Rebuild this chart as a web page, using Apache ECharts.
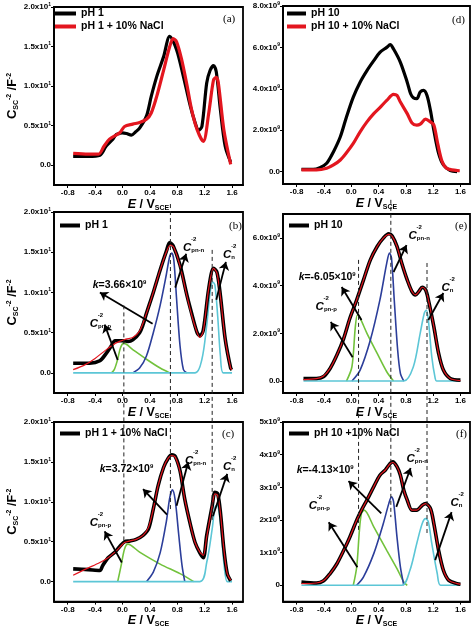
<!DOCTYPE html>
<html><head><meta charset="utf-8">
<style>html,body{margin:0;padding:0;background:#fff}#c{width:474px;height:629px}</style>
<script src="https://cdn.jsdelivr.net/npm/echarts@6/dist/echarts.min.js"></script>
</head><body><div id="c"></div><script>
// ---------- data ----------
const xTickValues = [-0.8, -0.4, 0, 0.4, 0.8, 1.2, 1.6];
const yTicksLeft = [0, 0.5, 1.0, 1.5, 2.0];
const yTicksD = [0, 2, 4, 6, 8];
const yTicksE = [0, 2, 4, 6];
const yTicksF = [0, 1, 2, 3, 4, 5];

// (a)
const aBlack = [[-0.72,0.11],[-0.5,0.11],[-0.33,0.125],[-0.24,0.24],[-0.14,0.33],[-0.09,0.39],[-0.05,0.40],[0.0,0.41],[0.06,0.40],[0.13,0.38],[0.19,0.42],[0.25,0.47],[0.35,0.62],[0.42,0.87],[0.5,1.12],[0.6,1.37],[0.69,1.63],[0.79,1.46],[0.89,1.12],[0.99,0.75],[1.06,0.54],[1.11,0.44],[1.16,0.49],[1.23,1.04],[1.28,1.2],[1.33,1.26],[1.37,1.18],[1.43,0.7],[1.5,0.24],[1.58,0.04]];
const aRed = [[-0.72,0.15],[-0.5,0.14],[-0.35,0.14],[-0.27,0.24],[-0.19,0.33],[-0.04,0.41],[0.03,0.49],[0.15,0.52],[0.25,0.54],[0.35,0.58],[0.42,0.66],[0.5,0.87],[0.6,1.2],[0.69,1.5],[0.74,1.6],[0.79,1.56],[0.86,1.35],[0.94,1.02],[1.01,0.7],[1.09,0.45],[1.18,0.3],[1.26,0.66],[1.33,1.08],[1.37,1.11],[1.4,1.04],[1.48,0.45],[1.58,0.01]];
// (d)
const dBlack = [[-0.73,0.11],[-0.56,0.11],[-0.46,0.19],[-0.36,0.4],[-0.26,0.96],[-0.16,1.68],[-0.07,2.64],[0.03,3.6],[0.13,4.32],[0.23,4.88],[0.33,5.36],[0.42,5.76],[0.52,6.0],[0.57,6.13],[0.62,5.92],[0.72,5.28],[0.82,4.32],[0.87,3.76],[0.91,3.57],[0.96,3.52],[1.01,3.84],[1.06,3.92],[1.11,3.68],[1.16,2.96],[1.21,2.0],[1.28,0.88],[1.35,0.32],[1.45,0.05],[1.55,0.0]];
const dRed = [[-0.73,0.08],[-0.51,0.08],[-0.36,0.16],[-0.26,0.32],[-0.16,0.56],[-0.07,0.91],[0.03,1.36],[0.13,1.92],[0.23,2.4],[0.33,2.8],[0.42,3.09],[0.52,3.44],[0.62,3.73],[0.67,3.68],[0.72,3.36],[0.82,2.8],[0.89,2.35],[0.96,2.24],[1.01,2.29],[1.09,2.53],[1.16,2.4],[1.21,2.25],[1.27,1.3],[1.33,0.5],[1.4,0.16],[1.55,0.05],[1.59,0.04]];
// (b)
const bBlack = [[-0.72,0.12],[-0.48,0.12],[-0.33,0.15],[-0.24,0.24],[-0.16,0.34],[-0.11,0.4],[-0.07,0.4],[0.01,0.4],[0.08,0.39],[0.15,0.41],[0.25,0.5],[0.3,0.6],[0.35,0.74],[0.45,1.0],[0.55,1.28],[0.64,1.51],[0.69,1.62],[0.74,1.58],[0.84,1.34],[0.94,0.97],[1.01,0.74],[1.09,0.5],[1.13,0.46],[1.18,0.53],[1.26,1.05],[1.33,1.3],[1.38,1.25],[1.43,0.96],[1.5,0.42],[1.58,0.06],[1.6,0.04]];
const bFit = [[-0.72,0.04],[-0.55,0.1],[-0.4,0.18],[-0.25,0.28],[-0.1,0.37],[0.05,0.42],[0.15,0.44],[0.25,0.52],[0.35,0.74],[0.45,1.0],[0.55,1.28],[0.64,1.5],[0.7,1.59],[0.75,1.56],[0.84,1.33],[0.94,0.96],[1.01,0.72],[1.09,0.5],[1.13,0.44],[1.18,0.52],[1.26,1.05],[1.33,1.3],[1.38,1.24],[1.43,0.95],[1.5,0.42],[1.58,0.06],[1.6,0.04]];
const bGreen = [[-0.16,0],[-0.12,0.04],[-0.07,0.17],[-0.03,0.31],[0.02,0.37],[0.15,0.29],[0.35,0.17],[0.55,0.06],[0.69,0]];
const bBlue = [[0.15,0],[0.25,0.06],[0.35,0.21],[0.45,0.5],[0.55,0.84],[0.64,1.22],[0.69,1.45],[0.72,1.49],[0.75,1.4],[0.79,0.92],[0.84,0.34],[0.89,0.04],[0.94,0]];
const bCyan = [[-0.72,0],[1.06,0],[1.16,0.17],[1.23,0.59],[1.28,1.0],[1.32,1.13],[1.35,1.09],[1.39,0.71],[1.43,0.21],[1.47,0],[1.6,0]];
// (c)
const cBlack = [[-0.72,0.16],[-0.5,0.15],[-0.33,0.14],[-0.29,0.2],[-0.21,0.3],[-0.11,0.37],[-0.04,0.44],[0.03,0.5],[0.11,0.51],[0.2,0.53],[0.3,0.58],[0.38,0.66],[0.45,0.91],[0.52,1.2],[0.6,1.43],[0.67,1.55],[0.72,1.59],[0.77,1.57],[0.84,1.39],[0.91,1.03],[0.99,0.72],[1.06,0.49],[1.13,0.36],[1.18,0.3],[1.23,0.58],[1.31,0.95],[1.35,1.12],[1.39,1.1],[1.43,0.87],[1.48,0.41],[1.53,0.1],[1.58,0.01]];
const cFit = [[-0.72,0.08],[-0.53,0.16],[-0.33,0.24],[-0.21,0.3],[-0.11,0.37],[-0.04,0.43],[0.03,0.49],[0.11,0.51],[0.2,0.53],[0.3,0.58],[0.38,0.68],[0.45,0.91],[0.52,1.2],[0.6,1.43],[0.67,1.55],[0.72,1.58],[0.77,1.56],[0.84,1.38],[0.91,1.03],[0.99,0.72],[1.06,0.49],[1.13,0.37],[1.18,0.33],[1.23,0.56],[1.31,0.95],[1.35,1.1],[1.39,1.08],[1.43,0.86],[1.48,0.41],[1.53,0.1],[1.58,0.02]];
const cGreen = [[-0.07,0],[-0.02,0.2],[0.03,0.41],[0.08,0.47],[0.25,0.37],[0.55,0.22],[0.84,0.1],[1.04,0]];
const cBlue = [[0.35,0],[0.45,0.12],[0.55,0.36],[0.64,0.75],[0.69,1.05],[0.73,1.15],[0.77,1.02],[0.82,0.6],[0.87,0.2],[0.91,0]];
const cCyan = [[-0.72,0],[1.13,0],[1.23,0.24],[1.31,0.66],[1.35,0.93],[1.38,0.96],[1.43,0.74],[1.48,0.24],[1.53,0],[1.6,0]];
// (e)
const eBlack = [[-0.7,0.11],[-0.51,0.11],[-0.41,0.18],[-0.31,0.53],[-0.21,1.09],[-0.11,1.79],[-0.02,2.63],[0.08,3.4],[0.18,4.24],[0.28,5.08],[0.38,5.64],[0.47,5.99],[0.55,6.17],[0.6,6.08],[0.67,5.64],[0.74,4.94],[0.82,4.24],[0.89,3.75],[0.94,3.61],[0.99,3.75],[1.04,3.93],[1.09,3.82],[1.13,3.4],[1.21,2.28],[1.28,1.16],[1.35,0.46],[1.45,0.11],[1.6,0.04]];
const eFit = [[-0.7,0.06],[-0.51,0.1],[-0.41,0.2],[-0.31,0.53],[-0.21,1.09],[-0.11,1.79],[-0.02,2.63],[0.08,3.4],[0.18,4.24],[0.28,5.08],[0.38,5.64],[0.47,5.99],[0.55,6.15],[0.6,6.06],[0.67,5.64],[0.74,4.94],[0.82,4.24],[0.89,3.75],[0.94,3.61],[0.99,3.75],[1.04,3.93],[1.09,3.82],[1.13,3.4],[1.21,2.28],[1.28,1.16],[1.35,0.46],[1.45,0.11],[1.6,0.02]];
const eGreen = [[-0.07,0],[0.01,0.6],[0.06,2.28],[0.09,2.77],[0.12,2.7],[0.23,2.0],[0.38,1.16],[0.52,0.39],[0.62,0]];
const eBlue = [[0.01,0],[0.13,0.46],[0.28,1.72],[0.42,3.4],[0.52,4.94],[0.56,5.36],[0.59,5.15],[0.63,3.4],[0.68,1.3],[0.72,0.32],[0.77,0]];
const eCyan = [[-0.7,0],[0.77,0],[0.91,0.6],[1.01,2.0],[1.07,2.84],[1.1,2.98],[1.13,2.56],[1.18,1.02],[1.23,0.11],[1.25,0],[1.6,0]];
// (f)
const fBlack = [[-0.73,0.1],[-0.51,0.07],[-0.41,0.13],[-0.31,0.36],[-0.21,0.66],[-0.11,1.07],[-0.02,1.48],[0.08,1.99],[0.15,2.3],[0.23,2.61],[0.33,3.02],[0.42,3.37],[0.5,3.53],[0.57,3.73],[0.61,3.78],[0.67,3.63],[0.72,3.37],[0.77,2.91],[0.82,2.61],[0.89,2.3],[0.96,2.3],[1.04,2.45],[1.09,2.5],[1.16,2.35],[1.21,1.89],[1.28,1.07],[1.35,0.46],[1.43,0.15],[1.55,0.05],[1.6,0.03]];
const fFit = [[-0.73,0.05],[-0.51,0.07],[-0.41,0.14],[-0.31,0.36],[-0.21,0.66],[-0.11,1.07],[-0.02,1.48],[0.08,1.99],[0.15,2.3],[0.23,2.61],[0.33,3.02],[0.42,3.37],[0.5,3.53],[0.57,3.72],[0.61,3.76],[0.67,3.63],[0.72,3.37],[0.77,2.91],[0.82,2.61],[0.89,2.3],[0.96,2.3],[1.04,2.45],[1.09,2.5],[1.16,2.35],[1.21,1.89],[1.28,1.07],[1.35,0.46],[1.43,0.15],[1.55,0.05],[1.6,0.03]];
const fGreen = [[0.03,0],[0.08,0.56],[0.12,1.69],[0.15,2.2],[0.19,2.3],[0.33,1.79],[0.52,1.07],[0.67,0.51],[0.77,0.1],[0.82,0]];
const fBlue = [[0.08,0],[0.18,0.26],[0.33,0.97],[0.47,1.89],[0.55,2.5],[0.59,2.71],[0.62,2.56],[0.67,1.48],[0.72,0.56],[0.77,0]];
const fCyan = [[-0.73,0],[0.74,0],[0.86,0.46],[0.96,1.28],[1.04,1.89],[1.09,2.04],[1.13,1.94],[1.18,1.28],[1.26,0.36],[1.31,0],[1.6,0]];

// peak positions (dashed guides) : [E, upper end, lower end] in units of panel (b)/(e)
const leftPeaks = [[0.02, 0.84, -2.1], [0.70, 2.1, -1.7], [1.31, 1.53, -1.83]];
const rightPeaks = [[0.107, 5.08, -6.25], [0.58, 7.6, -5.71], [1.11, 4.95, -6.46]];

// slope values
const kValues = { b: '3.66', c: '3.72', e: '-6.05', f: '-4.13' };

// ---------- styling ----------
const FONT = '"Liberation Sans", Arial, sans-serif';
const BLACK = '#000', RED = '#e3161f', GREEN = '#72c23c', BLUE = '#2c3e9a', CYAN = '#5cc6d6';

const tickRich = {
  tx: { fontFamily: FONT, fontSize: 8, fontWeight: 'bold', color: '#000', lineHeight: 10 },
  su: { fontFamily: FONT, fontSize: 5, fontWeight: 'bold', color: '#000', lineHeight: 5, verticalAlign: 'top' }
};
const annRich = {
  cc: { fontFamily: FONT, fontSize: 11.5, fontWeight: 'bold', fontStyle: 'italic', color: '#000', lineHeight: 11 },
  gp: { width: 8, lineHeight: 6, fontSize: 6 },
  sp: { fontFamily: FONT, fontSize: 6, fontWeight: 'bold', color: '#000', lineHeight: 6 },
  sb: { fontFamily: FONT, fontSize: 6, fontWeight: 'bold', color: '#000', lineHeight: 6, verticalAlign: 'bottom' },
  kk: { fontFamily: FONT, fontSize: 10.5, fontWeight: 'bold', fontStyle: 'italic', color: '#000', lineHeight: 12 },
  tt: { fontFamily: FONT, fontSize: 10.5, fontWeight: 'bold', color: '#000', lineHeight: 12 },
  ku: { fontFamily: FONT, fontSize: 6, fontWeight: 'bold', color: '#000', lineHeight: 6, verticalAlign: 'top' }
};
const nameRich = {
  ee: { fontFamily: FONT, fontSize: 12.5, fontWeight: 'bold', fontStyle: 'italic', color: '#000', lineHeight: 14 },
  nn: { fontFamily: FONT, fontSize: 12.5, fontWeight: 'bold', color: '#000', lineHeight: 14 },
  cs: { fontFamily: FONT, fontSize: 13, fontWeight: 'bold', color: '#000', lineHeight: 14 },
  sb: { fontFamily: FONT, fontSize: 7, fontWeight: 'bold', color: '#000', lineHeight: 7, verticalAlign: 'bottom' },
  sp: { fontFamily: FONT, fontSize: 7, fontWeight: 'bold', color: '#000', lineHeight: 7, verticalAlign: 'top' }
};

function cLabel(sub) { return '{gp| }{sp|-2}\n{cc|C}{sb|' + sub + '}'; }
function kLabel(k) { return '{kk|k}{tt|=' + k + '\u00d710}{ku|9}'; }

// panel layout
const panels = [
  { id: 'a', grid: { left: 54, top: 7, width: 189, height: 178 }, xmax: 1.76, ymin: -0.25, ymax: 2.0, yTicks: yTicksLeft, fmt: 'L', yname: true },
  { id: 'b', grid: { left: 54, top: 212, width: 189, height: 181 }, xmax: 1.76, ymin: -0.25, ymax: 2.0, yTicks: yTicksLeft, fmt: 'L', yname: true },
  { id: 'c', grid: { left: 54, top: 422, width: 189, height: 181 }, xmax: 1.76, ymin: -0.25, ymax: 2.0, yTicks: yTicksLeft, fmt: 'L', yname: true },
  { id: 'd', grid: { left: 283, top: 6, width: 187, height: 178 }, xmax: 1.74, ymin: -0.6, ymax: 8.0, yTicks: yTicksD, fmt: 'R', yname: false },
  { id: 'e', grid: { left: 283, top: 214, width: 187, height: 179 }, xmax: 1.74, ymin: -0.5, ymax: 7.0, yTicks: yTicksE, fmt: 'R', yname: false },
  { id: 'f', grid: { left: 283, top: 422, width: 187, height: 180 }, xmax: 1.74, ymin: -0.5, ymax: 5.0, yTicks: yTicksF, fmt: 'F', yname: false }
];

function yFormatter(kind) {
  if (kind === 'L') return v => v === 0 ? '{tx|0.0}' : '{tx|' + v.toFixed(1) + 'x10}{su|1}';
  if (kind === 'R') return v => v === 0 ? '{tx|0.0}' : '{tx|' + v.toFixed(1) + 'x10}{su|9}';
  return v => v === 0 ? '{tx|0}' : '{tx|' + v.toFixed(0) + 'x10}{su|9}';
}

const grids = [], xAxes = [], yAxes = [], series = [];
panels.forEach((p, i) => {
  grids.push(Object.assign({ show: true, borderColor: '#000', borderWidth: 1.8, backgroundColor: 'transparent', containLabel: false }, p.grid));
  xAxes.push({
    gridIndex: i, type: 'value', min: -1.0, max: p.xmax,
    axisLine: { show: true, onZero: false, lineStyle: { color: '#000', width: 1.8 } },
    axisTick: { show: true, customValues: xTickValues, length: 3, lineStyle: { color: '#000', width: 1 } },
    axisLabel: { customValues: xTickValues, formatter: v => (Math.abs(v) < 1e-9 ? '0.0' : v.toFixed(1)), fontFamily: FONT, fontSize: 8, fontWeight: 'bold', color: '#000', margin: 4 },
    splitLine: { show: false },
    name: '{ee|E}{nn| / V}{sb|SCE}', nameLocation: 'middle', nameGap: 12,
    nameTextStyle: { rich: nameRich }
  });
  yAxes.push({
    gridIndex: i, type: 'value', min: p.ymin, max: p.ymax,
    axisLine: { show: true, onZero: false, lineStyle: { color: '#000', width: 1.8 } },
    axisTick: { show: true, customValues: p.yTicks, length: 3, lineStyle: { color: '#000', width: 1 } },
    axisLabel: { customValues: p.yTicks, formatter: yFormatter(p.fmt), rich: tickRich, margin: 3 },
    splitLine: { show: false },
    name: p.yname ? '{cs|C}{sb|SC}{sp|-2}{nn| /F}{sp|-2}' : '', nameLocation: 'middle', nameGap: 34,
    nameTextStyle: { rich: nameRich }
  });
});

// overlay grids for dashed guides spanning two panels
grids.push({ left: 54, top: 196, width: 189, height: 354, show: false });
grids.push({ left: 283, top: 196, width: 187, height: 354, show: false });
xAxes.push({ gridIndex: 6, type: 'value', min: -1.0, max: 1.76, show: false });
xAxes.push({ gridIndex: 7, type: 'value', min: -1.0, max: 1.74, show: false });
yAxes.push({ gridIndex: 6, type: 'value', min: -2.2, max: 2.2, show: false });
yAxes.push({ gridIndex: 7, type: 'value', min: -7.09, max: 7.76, show: false });

function line(gi, name, data, color, width, z) {
  return { type: 'line', name: name, xAxisIndex: gi, yAxisIndex: gi, data: data, symbol: 'none', showSymbol: false,
    smooth: 0.3, lineStyle: { color: color, width: width }, itemStyle: { color: color }, z: z || 2, silent: true };
}

function annotations(arrows, labels) {
  return {
    markLine: { silent: true, symbol: ['none', 'arrow'], symbolSize: 8, animation: false,
      lineStyle: { color: '#000', width: 1.8, type: 'solid' }, label: { show: false },
      emphasis: { disabled: true },
      data: arrows.map(a => [{ coord: a[0] }, { coord: a[1] }]) },
    markPoint: { silent: true, symbol: 'rect', symbolSize: 1, itemStyle: { color: 'rgba(0,0,0,0)' }, animation: false,
      label: { show: true, position: 'inside', align: 'left', verticalAlign: 'middle', rich: annRich },
      data: labels.map(l => ({ coord: l[0], label: { formatter: () => l[1] } })) }
  };
}

// (a)
series.push(line(0, 'pH 1', aBlack, BLACK, 3.2, 3));
series.push(line(0, 'pH 1 + 10% NaCl', aRed, RED, 3.2, 4));
// (d)
series.push(line(3, 'pH 10', dBlack, BLACK, 3.2, 3));
series.push(line(3, 'pH 10 + 10% NaCl', dRed, RED, 3.2, 4));

// fitted panels
function fitted(gi, blackName, black, fit, green, blue, cyan, arrows, labels) {
  series.push(line(gi, 'g' + gi, green, GREEN, 1.6, 2));
  series.push(line(gi, 'bl' + gi, blue, BLUE, 1.6, 2));
  series.push(line(gi, 'cy' + gi, cyan, CYAN, 1.6, 2));
  series.push(line(gi, blackName, black, BLACK, 3.6, 3));
  series.push(Object.assign(line(gi, 'fit' + gi, fit, RED, 1.2, 4), annotations(arrows, labels)));
}

fitted(1, 'pH 1', bBlack, bFit, bGreen, bBlue, bCyan,
  [[[-0.07, 0.16], [-0.26, 0.6]], [[0.44, 0.61], [-0.33, 1.0]], [[0.77, 1.06], [0.93, 1.48]], [[1.37, 0.91], [1.51, 1.38]]],
  [[[-0.478, 0.65], cLabel('pn-p')], [[-0.434, 1.09], kLabel(kValues.b)], [[0.883, 1.59], cLabel('pn-n')], [[1.468, 1.5], cLabel('n')]]);
fitted(2, 'pH 1 + 10% NaCl ', cBlack, cFit, cGreen, cBlue, cCyan,
  [[[-0.01, 0.24], [-0.26, 0.63]], [[0.65, 0.84], [0.30, 1.16]], [[0.79, 0.95], [0.96, 1.5]], [[1.32, 0.82], [1.53, 1.35]]],
  [[[-0.478, 0.77], cLabel('pn-p')], [[-0.332, 1.41], kLabel(kValues.c)], [[0.912, 1.55], cLabel('pn-n')], [[1.468, 1.47], cLabel('n')]]);
fitted(4, 'pH 10', eBlack, eFit, eGreen, eBlue, eCyan,
  [[[0.15, 2.56], [-0.14, 3.94]], [[0.02, 1.0], [-0.30, 2.48]], [[0.62, 4.57], [0.81, 5.7]], [[1.13, 2.56], [1.35, 3.69]]],
  [[[-0.771, 4.36], kLabel(kValues.e)], [[-0.522, 3.23], cLabel('pn-p')], [[0.839, 6.2], cLabel('pn-n')], [[1.322, 4.02], cLabel('n')]]);
fitted(5, 'pH 10 +10% NaCl', fBlack, fFit, fGreen, fBlue, fCyan,
  [[[0.44, 2.2], [-0.04, 3.19]], [[0.09, 0.55], [-0.33, 1.93]], [[0.66, 2.4], [0.87, 3.59]], [[1.23, 0.77], [1.47, 2.24]]],
  [[[-0.8, 3.53], kLabel(kValues.f)], [[-0.624, 2.53], cLabel('pn-p')], [[0.81, 3.96], cLabel('pn-n')], [[1.454, 2.62], cLabel('n')]]);

// dashed guides
function dashed(gi, peaks) {
  peaks.forEach((pk, j) => {
    series.push({ type: 'line', name: 'dash' + gi + j, xAxisIndex: gi, yAxisIndex: gi,
      data: [[pk[0], pk[1]], [pk[0], pk[2]]], symbol: 'none', silent: true, z: 6,
      lineStyle: { color: '#222', width: 1, type: [4, 3] } });
  });
}
dashed(6, leftPeaks);
dashed(7, rightPeaks);

// legends
function legend(left, top, names, w) {
  return { left: left, top: top, orient: 'vertical', itemGap: 2, itemWidth: w, itemHeight: 4, icon: 'rect', padding: 0,
    selectedMode: false, data: names, textStyle: { fontFamily: FONT, fontSize: 10.5, fontWeight: 'bold', color: '#000' } };
}
const legends = [
  legend(55, 8, ['pH 1', 'pH 1 + 10% NaCl'], 21),
  legend(287, 8, ['pH 10', 'pH 10 + 10% NaCl'], 19),
  legend(60, 220, ['pH 1'], 20),
  legend(289, 220, ['pH 10'], 20),
  legend(60, 428, ['pH 1 + 10% NaCl '], 20),
  legend(289, 428, ['pH 10 +10% NaCl'], 20)
];

// panel letters
function letter(t, left, top) {
  return { text: t, left: left, top: top, padding: 0,
    textStyle: { fontFamily: '"Liberation Serif", "DejaVu Serif", serif', fontSize: 11, fontWeight: 'normal', color: '#000' } };
}
const titles = [letter('(a)', 223, 14), letter('(d)', 452, 15), letter('(b)', 229, 221),
  letter('(e)', 455, 221), letter('(c)', 222, 429), letter('(f)', 456, 429)];

const chart = echarts.init(document.getElementById('c'), null, { renderer: 'canvas' });
chart.setOption({
  backgroundColor: '#fff', animation: false,
  title: titles, legend: legends, grid: grids, xAxis: xAxes, yAxis: yAxes, series: series
});
</script></body></html>
